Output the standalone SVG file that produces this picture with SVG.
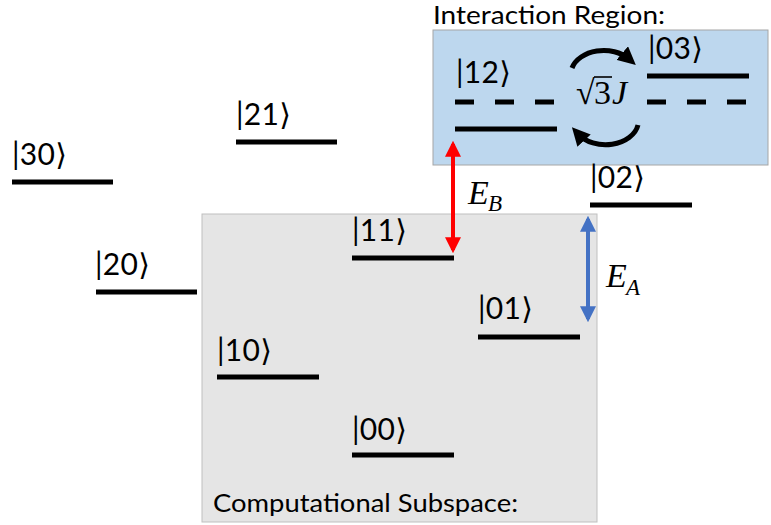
<svg xmlns="http://www.w3.org/2000/svg" width="771" height="525" viewBox="0 0 771 525">
<style>
.lvl{stroke:#000;stroke-width:5;fill:none}
.dash{stroke:#000;stroke-width:5;fill:none;stroke-dasharray:19 21}
.ket{font-family:Lato,"Open Sans","DejaVu Sans",sans-serif;font-size:30px;fill:#000}
.title{font-family:Lato,"Open Sans",sans-serif;font-size:25px;fill:#000}
.math{font-family:"Liberation Serif","DejaVu Serif",serif;font-style:italic;fill:#000}
</style>
<defs>
<marker id="hr" markerWidth="4" markerHeight="4" refX="3.2" refY="2" orient="auto-start-reverse" markerUnits="strokeWidth"><path d="M0,0 L4,2 L0,4 Z" fill="#FF0000"/></marker>
<marker id="hb" markerWidth="4" markerHeight="4" refX="3.2" refY="2" orient="auto-start-reverse" markerUnits="strokeWidth"><path d="M0,0 L4,2 L0,4 Z" fill="#4472C4"/></marker>
<marker id="hk" markerWidth="3.6" markerHeight="3.6" refX="1.8" refY="1.8" orient="auto" markerUnits="strokeWidth"><path d="M0,0 L3.6,1.8 L0,3.6 Z" fill="#000"/></marker>
</defs>
<g id="computational-subspace">
<rect x="202" y="214" width="395" height="308" fill="#E5E5E5" stroke="#BFBFBF" stroke-width="1"/>
<text class="title" x="213" y="512" textLength="305" lengthAdjust="spacingAndGlyphs">Computational Subspace:</text>
</g>
<g id="interaction-region">
<rect x="433" y="30" width="335" height="135" fill="#BDD7EE" stroke="#A6A6A6" stroke-width="1"/>
<text class="title" x="433" y="24" textLength="232" lengthAdjust="spacingAndGlyphs">Interaction Region:</text>
</g>
<g id="s30"><line class="lvl" x1="12" y1="182" x2="113" y2="182"/><text class="ket" x="12" y="165" textLength="55">|30⟩</text></g>
<g id="s21"><line class="lvl" x1="236" y1="142" x2="337" y2="142"/><text class="ket" x="236" y="125" textLength="55">|21⟩</text></g>
<g id="s20"><line class="lvl" x1="96" y1="292" x2="197" y2="292"/><text class="ket" x="95" y="275" textLength="55">|20⟩</text></g>
<g id="s11"><line class="lvl" x1="352" y1="258" x2="454" y2="258"/><text class="ket" x="352" y="241" textLength="55">|11⟩</text></g>
<g id="s10"><line class="lvl" x1="217" y1="377" x2="319" y2="377"/><text class="ket" x="217" y="361" textLength="55">|10⟩</text></g>
<g id="s00"><line class="lvl" x1="352" y1="455" x2="454" y2="455"/><text class="ket" x="352" y="440" textLength="55">|00⟩</text></g>
<g id="s01"><line class="lvl" x1="478" y1="337" x2="580" y2="337"/><text class="ket" x="478" y="319" textLength="55">|01⟩</text></g>
<g id="s02"><line class="lvl" x1="590" y1="205" x2="692" y2="205"/><text class="ket" x="590" y="188" textLength="55">|02⟩</text></g>
<g id="s12"><line class="lvl" x1="455" y1="129" x2="557" y2="129"/><line class="dash" x1="455" y1="102" x2="557" y2="102"/><text class="ket" x="456" y="83" textLength="55">|12⟩</text></g>
<g id="s03"><line class="lvl" x1="647" y1="76" x2="749" y2="76"/><line class="dash" x1="647" y1="102" x2="749" y2="102"/><text class="ket" x="648" y="59" textLength="55">|03⟩</text></g>
<g id="coupling">
<text x="576" y="104" font-family="Liberation Serif,serif" font-size="34">√</text>
<line x1="594" y1="77" x2="612" y2="77" stroke="#000" stroke-width="1.6"/>
<text x="594" y="104" font-family="Liberation Serif,serif" font-size="34">3</text>
<text class="math" x="612" y="104" font-size="34">J</text>
</g>
<g id="connectors">
<line x1="453" y1="144" x2="453" y2="250" stroke="#FF0000" stroke-width="4" marker-start="url(#hr)" marker-end="url(#hr)"/>
<line x1="588" y1="219" x2="588" y2="319" stroke="#4472C4" stroke-width="4" marker-start="url(#hb)" marker-end="url(#hb)"/>
<path d="M572,68 A33,24 0 0 1 629,59" fill="none" stroke="#000" stroke-width="5" marker-end="url(#hk)"/>
<path d="M638,125 A33,24 0 0 1 578,134" fill="none" stroke="#000" stroke-width="5" marker-end="url(#hk)"/>
</g>
<g id="energy-labels">
<text class="math" x="468" y="204" font-size="34">E</text><text class="math" x="488" y="211" font-size="23">B</text>
<text class="math" x="606" y="287" font-size="34">E</text><text class="math" x="626" y="295" font-size="23">A</text>
</g>
</svg>
